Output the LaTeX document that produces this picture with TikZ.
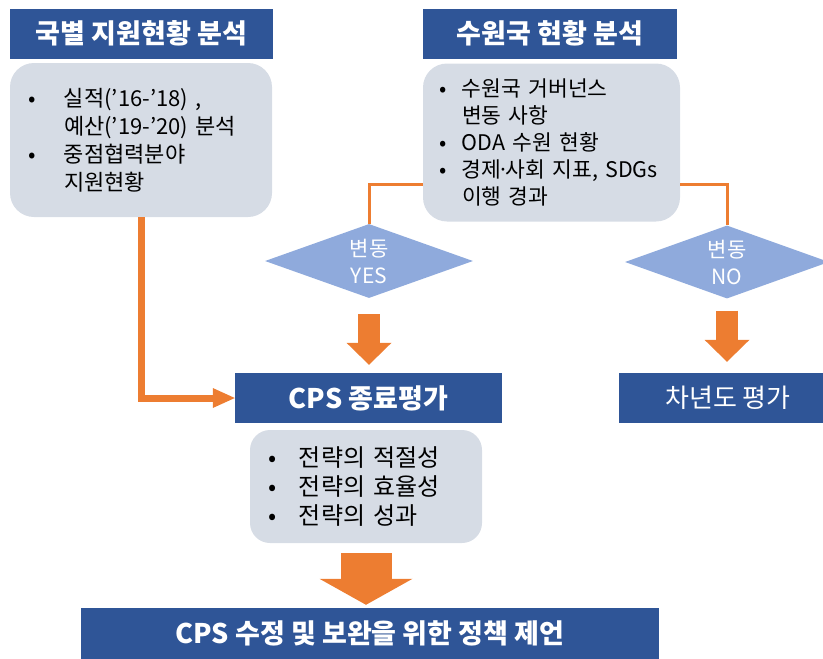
\documentclass[tikz,border=0pt]{standalone}
\usepackage{fontspec}
\setmainfont{Noto Sans CJK KR}
\usepackage{xcolor}
\usepackage{tikz}
\usetikzlibrary{arrows.meta,shapes.geometric}
\definecolor{navy}{RGB}{47,85,151}
\definecolor{slate}{RGB}{214,220,229}
\definecolor{sky}{RGB}{143,170,220}
\definecolor{amber}{RGB}{237,125,49}
\newcommand{\bul}[1]{\makebox[#1][l]{•}}

\begin{document}
\begin{tikzpicture}[x=1pt, y=-1pt,
  header/.style={fill=navy, text=white, minimum height=50pt, inner sep=0pt,
              font=\fontsize{27}{30}\selectfont\bfseries},
  panel/.style={fill=slate, rounded corners=24pt, inner xsep=18pt, inner ysep=0pt,
              align=left, font=\fontsize{22}{28}\selectfont},
  decision/.style={diamond, fill=sky, inner sep=0pt, aspect=2.8, minimum width=208pt,
              minimum height=74pt, text=white, align=center, font=\fontsize{21}{27}\selectfont},
  link/.style={amber, line width=3pt},
  arrow/.style={amber, line width=7pt, -{Triangle[length=22pt, width=20pt, line width=0pt]}},
  blockarrow/.style={amber, line width=22pt, -{Triangle[length=22pt, width=45pt, line width=0pt]}},
]
\useasboundingbox (0,0) rectangle (823,659);

% Analyse par pays
\node[header, minimum width=263pt] (hdrcountry) at (141.5,33.5) {국별 지원현황 분석};
\node[panel, minimum height=154pt, text width=226pt] (country) at (141,140)
  {\bul{36pt}실적(’16-’18) ,\\
   \hspace*{36pt}예산(’19-’20) 분석\\
   \bul{36pt}중점협력분야\\
   \hspace*{36pt}지원현황};

% Analyse du pays bénéficiaire
\node[header, minimum width=254pt] (hdrrecip) at (550,33.5) {수원국 현황 분석};
\node[panel, minimum height=158pt, inner xsep=16pt, text width=225pt,
  font=\fontsize{21.5}{27}\selectfont] (recip) at (551.5,142.5)
  {\bul{23pt}수원국 거버넌스\\
   \hspace*{23pt}변동 사항\\
   \bul{23pt}ODA 수원 현황\\
   \bul{23pt}경제\kern-.18em·\kern-.18em사회 지표, SDGs\\
   \hspace*{23pt}이행 경과};

% Décisions
\node[decision] (yes) at (369,261) {변동\\YES};
\node[decision, minimum width=204pt, minimum height=73pt] (no) at (727,262) {변동\\NO};

% Évaluations
\node[header, minimum width=267pt] (cps) at (368.5,398) {CPS 종료평가};
\node[header, minimum width=218pt, font=\fontsize{26}{28}\selectfont] (nextyear) at (728,398) {차년도 평가};
\node[panel, rounded corners=20pt, minimum height=113pt, text width=196pt,
  font=\fontsize{24}{29}\selectfont] (cpsitems) at (366,486.5)
  {\bul{31pt}전략의 적절성\\
   \bul{31pt}전략의 효율성\\
   \bul{31pt}전략의 성과};

% Proposition
\node[header, minimum width=578pt, minimum height=51pt] (policy) at (370,633.5) {CPS 수정 및 보완을 위한 정책 제언};

% Flèches
\draw[link] ([yshift=-41.5pt]recip.west) -| (yes.north);
\draw[link] ([yshift=-41.5pt]recip.east) -| (no.north);
\draw[arrow] (country.south) |- (cps.west);
\draw[blockarrow, shorten <=16pt, shorten >=8pt] (yes.south) -- (yes.south |- cps.north);
\draw[blockarrow, shorten <=12pt, shorten >=11pt] (no.south) -- (no.south |- nextyear.north);
\draw[blockarrow, line width=51pt, -{Triangle[length=26pt, width=93pt, line width=0pt]},
  shorten <=10pt, shorten >=3pt] (cpsitems.south) -- (cpsitems.south |- policy.north);

\end{tikzpicture}
\end{document}
